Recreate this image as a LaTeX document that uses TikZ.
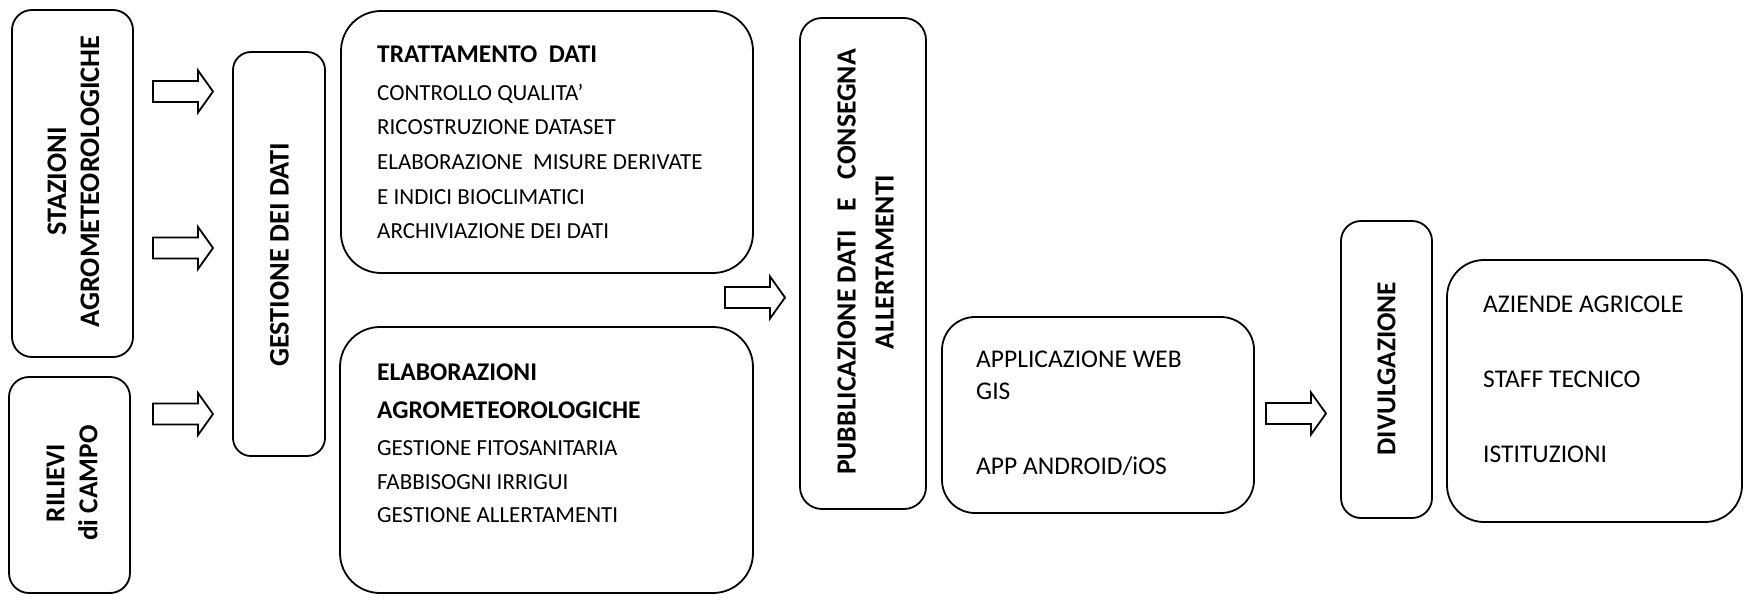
\documentclass[tikz,border=0pt]{standalone}
\usepackage{fontspec}
\setmainfont{Carlito}
\begin{document}
\begin{tikzpicture}[x=1pt,y=-1pt,
  box/.style={draw, line width=1.8pt, inner sep=0pt},
  body/.style={anchor=base west, inner sep=0pt, font=\fontsize{23}{34}\selectfont},
  bigbody/.style={anchor=base west, inner sep=0pt, font=\fontsize{25.5}{34}\selectfont},
  head/.style={anchor=base west, inner sep=0pt, font=\fontsize{25.5}{30}\selectfont\bfseries},
  vtext/.style={rotate=90, align=center, inner sep=0pt, font=\fontsize{28.3}{33}\selectfont\bfseries},
  barrow/.pic={\draw[line width=1.8pt, miter limit=10, fill=white]
     (0,-10.5) -- (45,-10.5) -- (45,-21) -- (60,0) -- (45,21) -- (45,10.5) -- (0,10.5) -- cycle;}
]
\useasboundingbox[fill=white] (0,0) rectangle (1761,607);

% boxes
\node[box, rounded corners=20, minimum width=121, minimum height=347] (staz) at (72.5,183.5) {};
\node[box, rounded corners=20, minimum width=121, minimum height=216] (ril) at (69.5,485) {};
\node[box, rounded corners=18, minimum width=92, minimum height=404] (gest) at (279,254) {};
\node[box, rounded corners=40, minimum width=412, minimum height=262] (tratt) at (547,142) {};
\node[box, rounded corners=40, minimum width=413, minimum height=266] (elab) at (546.5,460) {};
\node[box, rounded corners=22, minimum width=126, minimum height=491] (pubb) at (863,263.5) {};
\node[box, rounded corners=33, minimum width=312, minimum height=196] (app) at (1098,415) {};
\node[box, rounded corners=20, minimum width=91, minimum height=297] (divu) at (1386.5,369.5) {};
\node[box, rounded corners=37, minimum width=295, minimum height=262] (azi) at (1594.5,391) {};

% block arrows
\pic (a1) at (153,91.5) {barrow};
\pic (a2) at (153,248) {barrow};
\pic (a3) at (153,414) {barrow};
\pic (a4) at (725,297.5) {barrow};
\pic (a5) at (1266,413.5) {barrow};

% vertical texts
\node[vtext] (tstaz) at (73.5,181.5) {STAZIONI\\AGROMETEOROLOGICHE};
\node[vtext, font=\fontsize{27.3}{33}\selectfont\bfseries] (tril) at (72,483) {RILIEVI\\di CAMPO};
\node[vtext] (tgest) at (279.5,255) {GESTIONE DEI DATI};
\node[vtext, font=\fontsize{27.7}{38}\selectfont\bfseries] (tpubb) at (865.5,262) {PUBBLICAZIONE DATI\ \ \ E\ \ \ CONSEGNA\\ALLERTAMENTI};
\node[vtext, font=\fontsize{27.3}{33}\selectfont\bfseries] (tdivu) at (1386.5,368.5) {DIVULGAZIONE};

% trattamento
\node[head] (h1) at (377,63) {TRATTAMENTO\ \ DATI};
\node[body] (b1) at (377,101) {CONTROLLO QUALITA’};
\node[body] (b2) at (377,135) {RICOSTRUZIONE DATASET};
\node[body] (b3) at (377,169) {ELABORAZIONE\ \ MISURE DERIVATE};
\node[body] (b4) at (377,204) {E INDICI BIOCLIMATICI};
\node[body] (b5) at (377,238) {ARCHIVIAZIONE DEI DATI};

% elaborazioni
\node[head] (h2) at (377,380) {ELABORAZIONI};
\node[head] (h3) at (377,418) {AGROMETEOROLOGICHE};
\node[body] (b6) at (377,455) {GESTIONE FITOSANITARIA};
\node[body] (b7) at (377,489) {FABBISOGNI IRRIGUI};
\node[body] (b8) at (377,522) {GESTIONE ALLERTAMENTI};

% applicazione
\node[bigbody] (b9) at (976,367) {APPLICAZIONE WEB};
\node[bigbody] (b10) at (976,399) {GIS};
\node[bigbody] (b11) at (976,474) {APP ANDROID/iOS};

% aziende
\node[bigbody] (b12) at (1483,312) {AZIENDE AGRICOLE};
\node[bigbody] (b13) at (1483,387) {STAFF TECNICO};
\node[bigbody] (b14) at (1483,462) {ISTITUZIONI};
\end{tikzpicture}
\end{document}
